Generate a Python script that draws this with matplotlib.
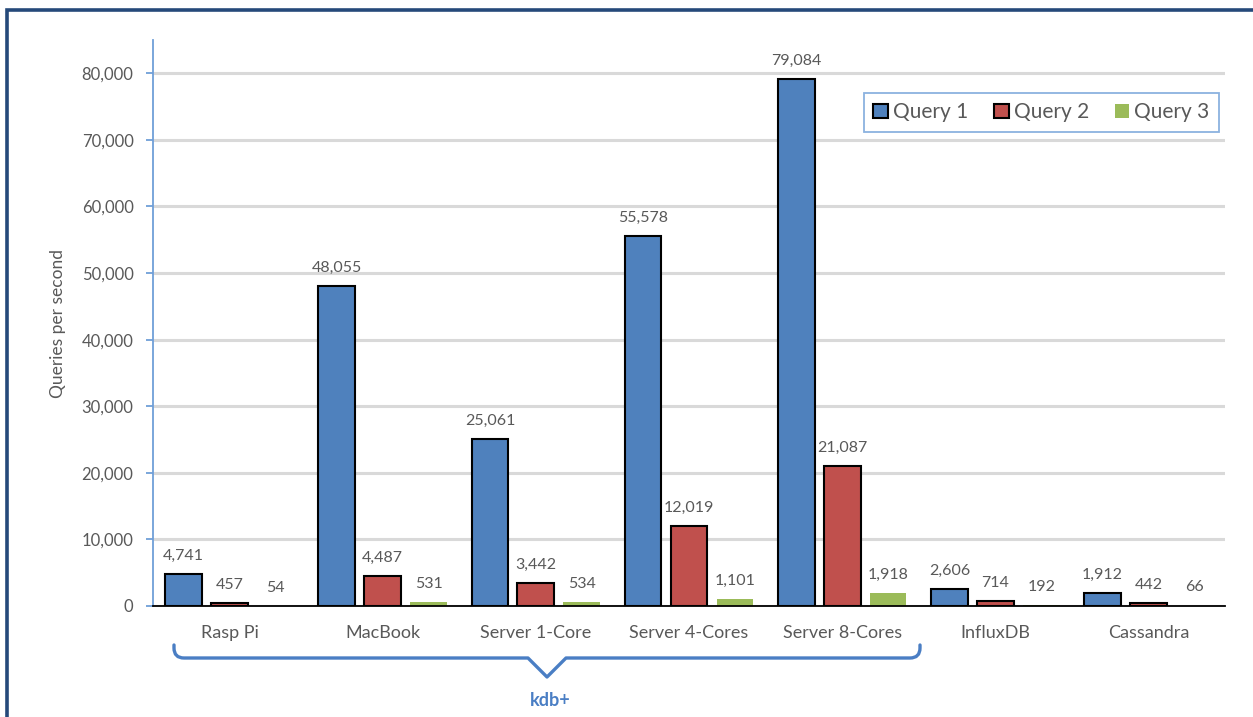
import matplotlib.pyplot as plt
import numpy as np
from matplotlib.patches import Rectangle
from matplotlib.path import Path
from matplotlib.patches import PathPatch

plt.rcParams['font.family'] = ['Lato', 'DejaVu Sans']

categories = ['Rasp Pi', 'MacBook', 'Server 1-Core', 'Server 4-Cores', 'Server 8-Cores', 'InfluxDB', 'Cassandra']
query1 = [4741, 48055, 25061, 55578, 79084, 2606, 1912]
query2 = [457, 4487, 3442, 12019, 21087, 714, 442]
query3 = [54, 531, 534, 1101, 1918, 192, 66]
series_names = ['Query 1', 'Query 2', 'Query 3']
colors = ['#4F81BD', '#C0504D', '#9BBB59']
text_col = '#595959'

W, H = 1253, 717
fig = plt.figure(figsize=(W / 100, H / 100), dpi=100)
ax = fig.add_axes([153 / W, 1 - 606 / H, (1225 - 153) / W, (606 - 40) / H])

x = np.arange(len(categories))
bw = 0.24
step = 0.30
for i, (vals, name, c) in enumerate(zip([query1, query2, query3], series_names, colors)):
    ec = 'black' if i < 2 else c
    lw = 1.5 if i < 2 else 0
    bars = ax.bar(x + (i - 1) * step, vals, bw, color=c, edgecolor=ec, linewidth=lw, label=name, zorder=3)
    for b, v in zip(bars, vals):
        ax.annotate(f'{v:,}', (b.get_x() + b.get_width() / 2, v), xytext=(0, 8),
                    textcoords='offset points', ha='center', va='bottom',
                    fontsize=11.5, color=text_col)

ax.set_xlim(-0.5, len(categories) - 0.5)
ax.set_ylim(0, 85000)
ax.set_yticks(np.arange(0, 80001, 10000))
ax.set_yticklabels([f'{t:,}' for t in range(0, 80001, 10000)])
ax.yaxis.grid(True, color='#D9D9D9', linewidth=2.2, zorder=0)
ax.set_axisbelow(True)
ax.set_xticks(x)
ax.set_xticklabels(categories)

for s in ['top', 'right']:
    ax.spines[s].set_visible(False)
ax.spines['left'].set_color('#6F9FD8')
ax.spines['left'].set_linewidth(1.3)
ax.spines['bottom'].set_color('black')
ax.spines['bottom'].set_linewidth(1.3)
ax.spines['bottom'].set_zorder(4)
ax.tick_params(axis='y', colors='#6F9FD8', labelcolor=text_col, labelsize=12, length=5, width=1.3, pad=9)
ax.tick_params(axis='x', length=0, labelcolor=text_col, labelsize=13, pad=14)
ax.set_ylabel('Queries per second', color=text_col, fontsize=12.5, labelpad=11)

leg = ax.legend(loc='upper right', bbox_to_anchor=(864 / W, 1 - 132 / H, (1219 - 864) / W, (132 - 93) / H),
                bbox_transform=fig.transFigure, ncol=3, frameon=True, fancybox=False,
                fontsize=15, handlelength=0.7, handleheight=0.7, handletextpad=0.25,
                columnspacing=0.8, borderaxespad=0, borderpad=0.45, mode='expand', labelcolor=text_col)
leg.get_frame().set_edgecolor('#6F9FD8')
leg.get_frame().set_linewidth(1.3)

# outer border (chart is cropped on right and bottom)
fig.add_artist(Rectangle((7 / W, -0.05), 1.1, 1 - 10 / H + 0.05, transform=fig.transFigure,
                         fill=False, edgecolor='#25497A', linewidth=2.6))

# bracket under kdb+ categories
def fx(px):
    return px / W

def fy(py):
    return 1 - py / H

r = 10
verts = [(174, 645), (174, 658 - r), (174, 658), (174 + r, 658), (528, 658), (547, 677), (566, 658),
         (920 - r, 658), (920, 658), (920, 658 - r), (920, 645)]
codes = [Path.MOVETO, Path.LINETO, Path.CURVE3, Path.CURVE3, Path.LINETO, Path.LINETO, Path.LINETO,
         Path.LINETO, Path.CURVE3, Path.CURVE3, Path.LINETO]
path = Path([(fx(a), fy(b)) for a, b in verts], codes)
fig.add_artist(PathPatch(path, transform=fig.transFigure, fill=False, edgecolor='#4A7EC4',
                         linewidth=2.4, capstyle='round', joinstyle='round'))
fig.text(fx(550), fy(701), 'kdb+', color='#4A7EC4', fontsize=13, fontweight='bold',
         ha='center', va='center')

fig.savefig('out.png', dpi=100)
